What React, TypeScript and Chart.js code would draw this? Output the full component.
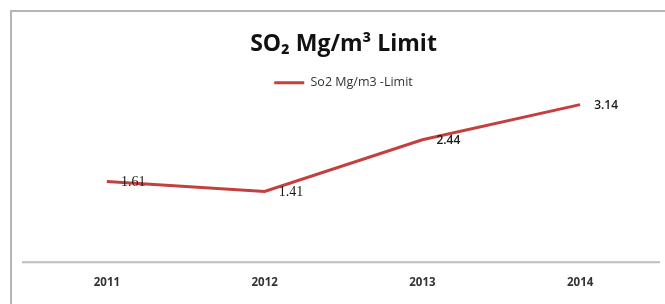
import React, { useEffect, useRef } from "react";
import { Chart, registerables } from "chart.js";

Chart.register(...registerables);

const years = ["2011", "2012", "2013", "2014"];
const so2Values = [1.61, 1.41, 2.44, 3.14];
const seriesName = "So2 Mg/m3 -Limit";
const chartTitle = "SO\u2082 Mg/m\u00b3 Limit";

const lineColor = "#c4403e";
const labelFonts = [
  { family: "'Liberation Serif', serif", size: 14, weight: "normal" },
  { family: "'Liberation Serif', serif", size: 14, weight: "normal" },
  { family: "'Open Sans', sans-serif", size: 12, weight: "600" },
  { family: "'Open Sans', sans-serif", size: 12, weight: "600" },
];

const valueLabels = {
  id: "valueLabels",
  afterDatasetsDraw(chart: any) {
    const meta = chart.getDatasetMeta(0);
    const ctx = chart.ctx;
    ctx.save();
    ctx.fillStyle = "#1a1a1a";
    ctx.textBaseline = "middle";
    ctx.textAlign = "left";
    meta.data.forEach((pt: any, i: number) => {
      const f = labelFonts[i];
      ctx.font = `${f.weight} ${f.size}px ${f.family}`;
      ctx.fillText(so2Values[i].toFixed(2), pt.x + 14, pt.y + 1);
    });
    ctx.restore();
  },
};

const axisLine = {
  id: "axisLine",
  beforeDatasetsDraw(chart: any) {
    const { ctx, chartArea } = chart;
    ctx.save();
    ctx.strokeStyle = "#bdbdbd";
    ctx.lineWidth = 2;
    ctx.beginPath();
    ctx.moveTo(chartArea.left - 6, chartArea.bottom);
    ctx.lineTo(chartArea.right + 1, chartArea.bottom);
    ctx.stroke();
    ctx.restore();
  },
};

export default function App() {
  const ref = useRef<HTMLCanvasElement>(null);
  useEffect(() => {
    if (!ref.current) return;
    const chart = new Chart(ref.current, {
      type: "line",
      data: {
        labels: years,
        datasets: [
          {
            label: seriesName,
            data: so2Values,
            borderColor: lineColor,
            backgroundColor: lineColor,
            borderWidth: 3,
            pointRadius: 0,
            pointHoverRadius: 0,
            tension: 0,
            pointStyle: "line",
          },
        ],
      },
      options: {
        responsive: false,
        animation: false,
        layout: { padding: { left: 28, right: 6, top: 0, bottom: 0 } },
        plugins: {
          title: {
            display: true,
            text: chartTitle,
            color: "#111",
            font: { family: "'Open Sans', sans-serif", size: 23, weight: "bold" },
            padding: { top: 31, bottom: 6 },
          },
          legend: {
            display: true,
            labels: {
              usePointStyle: true,
              pointStyle: "line",
              pointStyleWidth: 30,
              padding: 12,
              color: "#333",
              font: { family: "'Open Sans', sans-serif", size: 12.5 },
            },
          },
          tooltip: { enabled: false },
        },
        scales: {
          x: {
            offset: true,
            grid: { display: false, drawTicks: false },
            border: { display: false },
            ticks: {
              padding: 14,
              color: "#333",
              font: { family: "'Open Sans', sans-serif", size: 11.5, weight: "bold" },
            },
          },
          y: {
            display: false,
            min: 0,
            max: 3.25,
          },
        },
      },
      plugins: [valueLabels, axisLine],
    });
    return () => chart.destroy();
  }, []);

  return (
    <div style={{ position: "fixed", left: 0, top: 0, width: 665, height: 304, background: "#fff" }}>
      <canvas ref={ref} width={665} height={304} style={{ position: "absolute", left: 0, top: 0 }} />
      <div
        style={{
          position: "absolute",
          left: 10,
          top: 10,
          right: -5,
          bottom: -5,
          borderLeft: "2px solid #b5b5b5",
          borderTop: "2px solid #b5b5b5",
          pointerEvents: "none",
        }}
      />
    </div>
  );
}
